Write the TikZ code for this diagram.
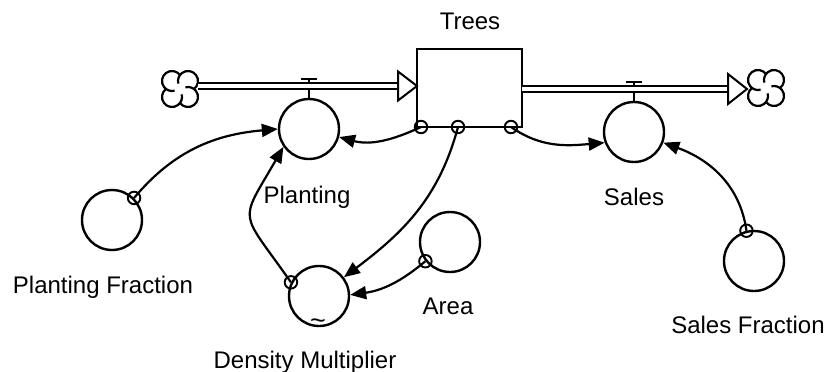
\documentclass[tikz,border=0pt]{standalone}
\usepackage{fontspec}
\setmainfont{Liberation Sans}
\usetikzlibrary{arrows.meta}
\tikzset{
  aux/.style={circle,draw,line width=2.4pt,minimum size=60pt,inner sep=0pt},
  stockbox/.style={rectangle,draw,line width=2.4pt,minimum width=105pt,minimum height=78pt,inner sep=0pt},
  dotc/.style={circle,draw,line width=1.9pt,minimum size=12.5pt,inner sep=0pt},
  lbl/.style={font=\fontsize{24}{28}\selectfont,anchor=base,inner sep=0pt},
  conn/.style={line width=2.2pt,-{Triangle[length=16pt,width=13pt]}},
  pipe/.style={line width=2pt,double,double distance=4.2pt},
  valve/.style={line width=2.2pt},
  flowhead/.style={line width=2pt,fill=white,line join=miter},
  cloud/.pic={
    \foreach \r in {0,90,180,270}{
      \draw[line width=2.2pt,rotate=\r] (8,8) ++(-53:10) arc[start angle=-53,end angle=195,radius=10];
    }
  }
}
\begin{document}
\begin{tikzpicture}[x=1pt,y=1pt]
\useasboundingbox (0,0) rectangle (825,-372);

% stock
\node[stockbox] (trees) at (469.5,-88) {};
\node[lbl] (treeslbl) at (470,-29) {Trees};

% auxiliaries / rates
\node[aux] (planting) at (309,-129) {};
\node[aux] (sales) at (634,-132) {};
\node[aux] (pf) at (112,-220) {};
\node[aux] (sf) at (754,-261) {};
\node[aux] (dm) at (319,-296) {};
\node[aux] (area) at (450,-242) {};

\node[lbl] (plantinglbl) at (307,-203) {Planting};
\node[lbl] (saleslbl) at (634,-205) {Sales};
\node[lbl] (pflbl) at (103,-293) {Planting Fraction};
\node[lbl] (dmlbl) at (305,-368) {Density Multiplier};
\node[lbl] (arealbl) at (448,-314) {Area};
\node[lbl] (sflbl) at (748,-333) {Sales Fraction};
\node[font=\fontsize{27}{30}\selectfont,anchor=base,inner sep=0pt] (dmtilde) at (318,-329) {\textasciitilde};

% clouds
\pic (cloudL) at (180,-89) {cloud};
\pic (cloudR) at (766,-88) {cloud};

% flow coordinates
\coordinate (inA) at (198,-86);
\coordinate (inB) at (398,-86);
\coordinate (inTip) at (417,-86);
\coordinate (outA) at (522,-89);
\coordinate (outB) at (728,-89);
\coordinate (outTip) at (747,-89);
\coordinate (vbarL1) at (301,-79);
\coordinate (vbarR1) at (317,-79);
\coordinate (vmid1) at (309,-79);
\coordinate (vbarL2) at (626,-82);
\coordinate (vbarR2) at (642,-82);
\coordinate (vmid2) at (634,-82);

% valves
\draw[valve] (vbarL1) -- (vbarR1);
\draw[valve] (vmid1) -- (planting.north);
\draw[valve] (vbarL2) -- (vbarR2);
\draw[valve] (vmid2) -- (sales.north);

% pipes
\draw[pipe] (inA) -- (inB);
\draw[flowhead] (inB) ++(0,14.5) -- (inTip) -- ([yshift=-14.5pt]inB) -- cycle;
\draw[pipe] (outA) -- (outB);
\draw[flowhead] (outB) ++(0,15) -- (outTip) -- ([yshift=-15pt]outB) -- cycle;

% connector origins
\node[dotc] (td1) at (421,-127) {};
\node[dotc] (td2) at (458,-127) {};
\node[dotc] (td3) at (511,-127) {};
\node[dotc] (pfdot) at (pf.45) {};
\node[dotc] (sfdot) at (sf.104) {};
\node[dotc] (dmdot) at (dm.154) {};
\node[dotc] (areadot) at (area.218) {};

% connectors
\draw[conn] (pfdot.center) to[out=50,in=185] (planting.180);
\draw[conn] (td1.center) to[out=205,in=-15] (planting.-15);
\draw[conn] (td2.center) to[out=255,in=37] (dm.37);
\draw[conn] (td3.center) to[out=-35,in=185] (sales.200);
\draw[conn] (sfdot.center) to[out=98,in=-20] (sales.-20);
\draw[conn] (dmdot.center) to[out=125,in=240,looseness=1.7] (planting.215);
\draw[conn] (areadot.center) to[out=220,in=8] (dm.2);
\end{tikzpicture}
\end{document}
